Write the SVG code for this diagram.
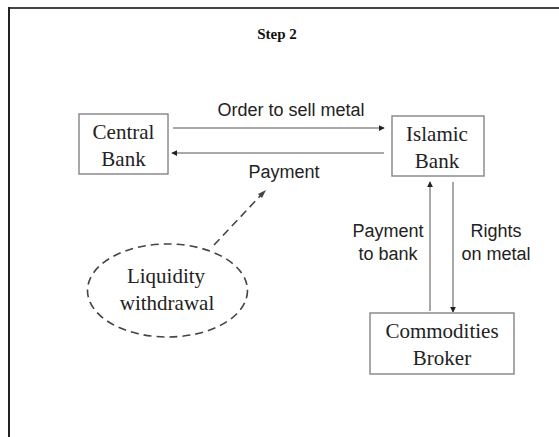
<svg xmlns="http://www.w3.org/2000/svg" width="559" height="437" viewBox="0 0 559 437">
<defs>
<style>
.box{fill:#fff;stroke:#8c8c8c;stroke-width:1.5}
.node{font-family:"Liberation Serif","Times New Roman",serif;font-size:21px;fill:#222;text-anchor:middle}
.lbl{font-family:"Liberation Sans",Arial,sans-serif;font-size:18px;fill:#222;text-anchor:middle}
.arr{stroke:#8c8c8c;stroke-width:1.5;fill:none;marker-end:url(#ah)}
.dash{stroke:#444;stroke-width:1.6;fill:none;stroke-dasharray:8 5}
</style>
<marker id="ah" viewBox="0 0 8 8" refX="7" refY="4" markerWidth="4" markerHeight="4" orient="auto" markerUnits="strokeWidth">
<path d="M0,0 L8,4 L0,8 z" fill="#222"/>
</marker>
</defs>
<rect width="559" height="437" fill="#fff"/>
<g id="frame">
<line x1="9" y1="8" x2="559" y2="8" stroke="#444" stroke-width="2"/>
<line x1="9" y1="7" x2="9" y2="437" stroke="#222" stroke-width="2"/>
</g>
<text x="277" y="39" font-family="Liberation Serif,'Times New Roman',serif" font-size="15" font-weight="bold" text-anchor="middle" fill="#111">Step 2</text>
<g id="connectors">
<line class="arr" x1="173" y1="128" x2="384" y2="128"/>
<line class="arr" x1="384" y1="153" x2="172" y2="153"/>
<line class="arr" x1="430" y1="311" x2="430" y2="182"/>
<line class="arr" x1="453" y1="182" x2="453" y2="312"/>
<line class="dash" x1="214" y1="245" x2="262" y2="194"/>
<path d="M266,190 L258,194 L262,198 z" fill="#444"/>
<text class="lbl" x="291" y="116">Order to sell metal</text>
<text class="lbl" x="284" y="178">Payment</text>
<text class="lbl" x="388" y="237">Payment</text>
<text class="lbl" x="388" y="260">to bank</text>
<text class="lbl" x="496" y="237">Rights</text>
<text class="lbl" x="496" y="260">on metal</text>
</g>
<g id="central-bank">
<rect class="box" x="79" y="114" width="89" height="60"/>
<text class="node" x="123.5" y="139">Central</text>
<text class="node" x="123.5" y="166">Bank</text>
</g>
<g id="islamic-bank">
<rect class="box" x="392" y="116" width="92" height="60"/>
<text class="node" x="437" y="141">Islamic</text>
<text class="node" x="437" y="168">Bank</text>
</g>
<g id="commodities-broker">
<rect class="box" x="370" y="313" width="144" height="61"/>
<text class="node" x="442" y="338">Commodities</text>
<text class="node" x="442" y="365">Broker</text>
</g>
<g id="liquidity-withdrawal">
<ellipse class="dash" cx="167.5" cy="290.5" rx="80" ry="46.5"/>
<text class="node" x="166" y="283">Liquidity</text>
<text class="node" x="167" y="310">withdrawal</text>
</g>
</svg>
